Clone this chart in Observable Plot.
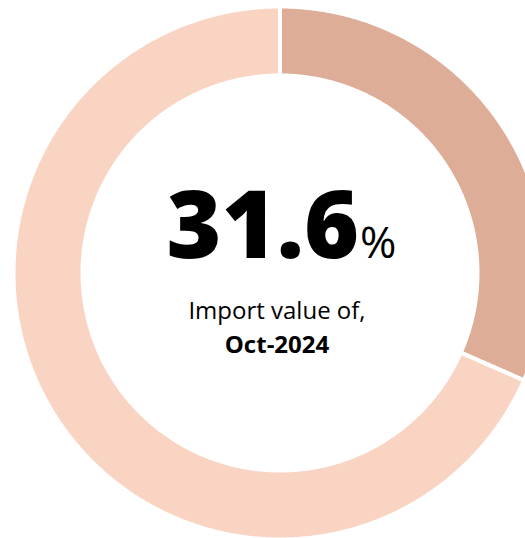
<!DOCTYPE html>
<html>
<head>
<meta charset="utf-8">
<script src="https://cdn.jsdelivr.net/npm/d3@7"></script>
<script src="https://cdn.jsdelivr.net/npm/@observablehq/plot@0.6"></script>
<style>
  html, body { margin: 0; padding: 0; background: #fff; }
  #chart svg { display: block; }
</style>
</head>
<body>
<div id="chart"></div>
<script>
// ---- data ----
const categories = ["Oct-2024", "Rest"];
const values = [31.6, 68.4];
const colors = ["#DDAD97", "#FAD4C2"];
const headline = "31.6";
const headlineUnit = "%";
const subtitleLines = ["Import value of,", "Oct-2024"];

// ---- geometry (unit circle, data space) ----
const W = 525, H = 538;
const pxPerUnit = 264.5;          // outer radius in pixels
const cx = 279.5, cy = 272.5;     // center in pixels
const rOuter = 1 + 2 / pxPerUnit;
const rInner = 197.5 / pxPerUnit;

const pie = d3.pie().sort(null).value(d => d)(values);
const points = [];
pie.forEach((p, i) => {
  const key = categories[i];
  const n = Math.max(2, Math.ceil((p.endAngle - p.startAngle) / (Math.PI / 360)));
  for (let k = 0; k <= n; k++) {
    const a = p.startAngle + (p.endAngle - p.startAngle) * k / n;
    points.push({key, x: rOuter * Math.sin(a), y: rOuter * Math.cos(a)});
  }
  for (let k = n; k >= 0; k--) {
    const a = p.startAngle + (p.endAngle - p.startAngle) * k / n;
    points.push({key, x: rInner * Math.sin(a), y: rInner * Math.cos(a)});
  }
});

const font = "'Open Sans', Calibri, sans-serif";
const chart = Plot.plot({
  width: W,
  height: H,
  margin: 0,
  x: {domain: [-cx / pxPerUnit, (W - cx) / pxPerUnit], axis: null},
  y: {domain: [-(H - cy) / pxPerUnit, cy / pxPerUnit], axis: null},
  color: {domain: categories, range: colors},
  style: {fontFamily: font, background: "#fff"},
  marks: [
    Plot.line(points, {x: "x", y: "y", z: "key", fill: "key", stroke: "white", strokeWidth: 4, curve: "linear-closed"}),
    Plot.text([headline], {x: () => 0, y: () => 0, text: d => d, textAnchor: "end", dx: 79, dy: -45, fontSize: 94, fontWeight: 800, fill: "#000"}),
    Plot.text([headlineUnit], {x: () => 0, y: () => 0, text: d => d, textAnchor: "start", dx: 80, dy: -29, fontSize: 44, fill: "#000"}),
    Plot.text([subtitleLines[0]], {x: () => 0, y: () => 0, text: d => d, dx: -3, dy: 38, fontSize: 24, fill: "#000"}),
    Plot.text([subtitleLines[1]], {x: () => 0, y: () => 0, text: d => d, dx: -3, dy: 72, fontSize: 24, fontWeight: "bold", fill: "#000"})
  ]
});
document.getElementById("chart").appendChild(chart);
</script>
</body>
</html>
